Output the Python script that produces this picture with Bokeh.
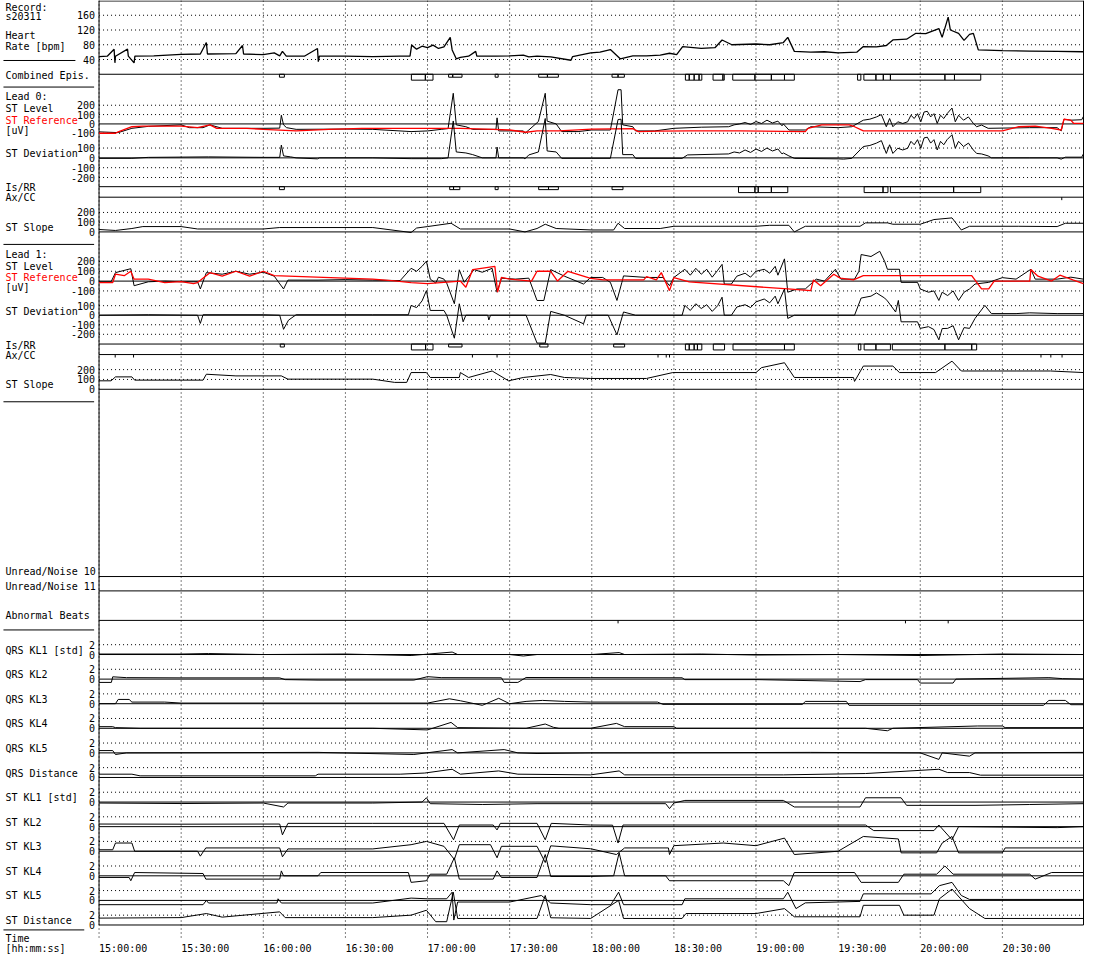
from bokeh.plotting import figure
from bokeh.models import Range1d
from bokeh.embed import file_html
from bokeh.resources import INLINE
from bokeh.core.properties import value

# ------------------------------------------------------------------ data
# time in minutes after 15:00:00
TIME_TICKS = [0, 30, 60, 90, 120, 150, 180, 210, 240, 270, 300, 330]
TIME_LABELS = ["15:00:00", "15:30:00", "16:00:00", "16:30:00", "17:00:00", "17:30:00",
               "18:00:00", "18:30:00", "19:00:00", "19:30:00", "20:00:00", "20:30:00"]

HR_TICKS = [40, 80, 120, 160]
LEVEL_TICKS = [-100, 0, 100, 200]
DEV_TICKS = [-200, -100, 0, 100]
SLOPE_TICKS = [0, 100, 200]
KL_TICKS = [0, 2]

HR = [(0,48),(3,49),(5.5,68),(5.8,31),(6,49),(10.4,68),(10.7,49),(12.8,31),(13.1,49),(20,50),
      (30,54),(37,55),(39.2,86),(39.6,55),(50,56),(52.4,78),(52.8,55),(60,53),(64,58),(66,50),
      (67,62),(68.4,49),(75,49),(79.8,70),(80.1,34),(80.5,49),(90,49),(100,48),(110,49),(113.6,49),
      (114.2,79),(116,68),(118,76),(120,72),(122,79),(124,70),(126,74),(128.3,100),(129,66),(130.5,42),
      (132,46),(135,49),(137.6,62),(138,49),(145,49),(150,50),(155,52),(157,47),(160,49),(165,47),
      (172.4,38),(173,48),(179.6,58),(183,60),(186.8,67),(190.4,42),(195,50),(200,50),(205,52),(208.4,57),
      (211,53),(213.2,75),(220,70),(225,72),(227.6,93),(231.2,80),(240,82),(245,80),(250,86),(251.6,100),
      (254,62),(260,60),(265,61),(270,58),(276.8,60),(279.2,75),(284,74),(287.6,78),(290,93),(295,95),
      (298.4,111),(302,110),(306.8,124),(308,100),(310.2,155),(311,120),(314,111),(316,92),(318,108),
      (319.4,111),(321.2,66),(330,64),(340,63),(350,62),(359.6,61)]

# episodes: (start, end, kind)  kind 1 = short mark, 2 = long mark
COMB_EPIS = [(65.9,67.7,1),(114.1,119.2,2),(119.2,122,2),(127.7,129.2,1),(129.2,132.6,1),(144.7,145.8,1),
             (160.6,163.8,1),(163.8,167.8,1),(187.4,189.6,1),(189.6,191.9,1),(214.2,215.6,2),(215.6,217.4,2),
             (217.4,219.2,2),(219.2,220.2,2),(224.3,227.9,2),(227.9,228.4,2),(231.5,239.6,2),(239.6,245.6,2),
             (245.6,250.4,2),(250.4,254,2),(277.1,278.3,2),(279.4,283.8,2),(283.8,286.5,2),(286.5,289.1,2),
             (289.1,309,2),(309,312.5,2),(312.5,322.1,2)]

L0_LEVEL = [(0,-85),(7,-93),(12,-47),(18,-26),(30,-10),(33,-40),(38,-40),(40.5,-10),(45,-47),(60,-47),
            (66,-45),(66.6,93),(67.4,-10),(68.5,-40),(72,-58),(90,-55),(100,-58),(114,-82),(120,-75),(125,-58),
            (127.5,-50),(129.4,328),(130.5,-10),(134,-30),(136.5,-58),(145,-58),(145.4,65),(146,-75),(155,-75),
            (155.6,-100),(157,-65),(160.5,26),(163,328),(163.7,30),(167,0),(169,-82),(175,-82),(180,-65),
            (186.8,-65),(189.6,366),(190.7,366),(191.3,-10),(195,-30),(196,-75),(203,-75),(210,-47),(220,-35),
            (230,-30),(232,-10),(234,0),(236,15),(238,-5),(240,25),(242,5),(244,40),(246,10),(248,30),
            (249.5,-20),(250,0),(252,-65),(258,-65),(260,-30),(270,-40),(275,-30),
            (279.2,40),(281.6,51),(284,75),(285.8,100),(287.6,-30),(288.8,58),(290,-30),(291.8,23),(293.6,5),
            (295.4,23),(296.6,93),(297.8,58),(299,110),(300.2,23),(301.4,128),(302.6,135),(303.8,75),(305,110),
            (306.2,5),(307.4,93),(308.6,58),(309.8,110),(311.6,170),(312.8,23),(314,93),(315.8,40),(317.6,75),
            (319.4,5),(320.6,-30),(322.4,-12),(324.8,-47),(340,-40),(350,-40),(351.5,-75),(352.5,50),
            (355,40),(359,45),(359.6,80)]
L0_REF = [(0,-100),(6,-100),(7,-85),(12,-30),(16,-23),(30,-23),(36,-40),(40.5,-10),(43,-47),(54,-47),
          (60,-58),(72,-75),(84,-58),(96,-47),(120,-47),(132,-47),(144,-58),(150,-65),(156,-89),(160,-75),
          (168,-75),(180,-55),(195,-50),(197,-82),(204,-78),(216,-75),(234,-75),(258,-82),(259,-47),(264,-10),
          (274,-10),(276,-30),(279.2,-75),(330,-75),(336,-30),(342,-23),(348,-47),(351.5,-65),(352.5,50),
          (355,40),(356,7),(359.6,7)]
L0_DEV = [(0,-5),(12,-5),(18,5),(40,10),(60,5),(66,5),(66.6,130),(67.4,20),(70,10),(72,0),(79.8,-10),
          (80.5,0),(100,0),(114,-8),(125,-8),(127.5,0),(129.4,375),(130.5,60),(134,50),(136.5,33),(140,0),
          (145,0),(145.4,110),(146,0),(155,0),(155.6,-10),(157,30),(160.5,60),(163,400),(163.7,70),(167,60),
          (169,-5),(180,-5),(186.8,-5),(189.6,390),(190.7,393),(191.3,33),(195,33),(196,-5),(213,-5),(215,30),
          (230,40),(232,60),(234,50),(236,80),(238,55),(240,90),(242,65),(244,100),(246,70),(248,90),
          (249.5,40),(250,50),(252,20),(254,-5),(270,-10),(272,-13),(275,-5),
          (279.2,115),(281.6,126),(284,150),(285.8,175),(287.6,45),(288.8,133),(290,45),(291.8,98),(293.6,80),
          (295.4,98),(296.6,168),(297.8,133),(299,185),(300.2,98),(301.4,203),(302.6,210),(303.8,150),(305,185),
          (306.2,80),(307.4,168),(308.6,133),(309.8,185),(311.6,235),(312.8,98),(314,168),(315.8,115),
          (317.6,150),(319.4,80),(320.6,45),(322.4,40),(324.8,20),(326,0),(340,0),(350,0),(351.5,-13),
          (353,7),(359,7),(359.6,40)]
L0_ISRR = [(65.9,67.7,1),(128.1,129.5,1),(129.5,131.8,1),(144.7,145.8,1),(160.6,164.2,1),(164.2,167.8,1),
           (187.4,191.4,1),(233.6,239.6,2),(239.6,240.8,2),(240.8,245.6,2),(245.6,251.6,2),(279.5,286.4,2),
           (286.4,288.2,2),(289.1,312.2,2),(312.2,322.1,2)]
L0_AXCC = [351.7]
L0_SLOPE = [(0,25),(6,15),(12,35),(16,55),(30,55),(36,30),(60,30),(66,45),(80,45),(100,45),(114,-6),
            (116,40),(120,55),(128.6,89),(132,30),(150,30),(155.6,0),(160,35),(163,79),(167,35),(180,20),
            (188,20),(189.6,89),(192,35),(205,35),(210,58),(240,58),(245,68),(252,68),(254,0),(258,58),
            (278,58),(280,93),(288,93),(290,79),(300,79),(305,127),(311.6,144),(315,20),(318,58),(336,58),
            (350,55),(353,89),(359.6,89)]

L1_LEVEL = [(0,-7),(4.4,-7),(6,86),(11.6,126),(12.8,-47),(18,-7),(24,0),(30,-7),(36,-7),(37,-80),
            (39.2,86),(45,70),(50,100),(55,70),(60,90),(64,50),(67.4,-80),(69,10),(80,10),(90,15),(100,10),
            (110,5),(114,130),(116,100),(118,150),(119.6,203),(121,20),(123,-20),(124,40),(126,20),(127,-20),
            (129.8,-230),(131.6,115),(133.4,-13),(137,117),(140,90),(143.6,130),(145.4,-113),(147,30),(152,20),
            (157,30),(160,-197),(162.5,-197),(165,117),(170,50),(177,-30),(179.6,37),(184,37),(186.8,-13),
            (189.2,-197),(191,-13),(191.6,53),(200,37),(206,37),(208.4,-47),(210,37),(214,120),(216,60),
            (218,130),(220,70),(222,120),(224,40),(226,110),(227.6,170),(228.4,-30),(231,-30),(233,50),(236,80),
            (238,40),(240,100),(243,120),(245,80),(247,150),(248,60),(250.4,226),(251.6,-113),(255,-80),
            (258,-80),(262,20),(265,0),(269,120),(271,20),(276,20),(277.6,100),(278.4,270),(282,250),
            (285.2,303),(287,200),(288,120),(292.4,120),(293,-13),(299,-13),(300,-80),(303,-113),(305,-100),
            (306.8,-197),(308,-113),(310,-147),(312,-100),(314,-197),(316,-113),(318,-80),(320,-30),(325,-13),
            (330,35),(335,20),(340.4,120),(342,20),(350,20),(355,40),(359.6,20)]
L1_REF = [(0,-15),(5,-15),(6,70),(9.2,55),(11.6,100),(12.8,20),(18,20),(24,-15),(30,-5),(34.5,-25),
          (36,-15),(40.5,86),(45,50),(50,100),(55,50),(60,100),(64,55),(100,20),(108,3),(114,-15),(120,-25),
          (132,0),(134,-63),(136.5,117),(144.6,150),(145.6,-113),(147,37),(150,20),(158,0),(160,100),
          (165,100),(167.5,0),(171.3,100),(179.6,28),(184.4,12),(199,12),(200,45),(203.6,12),(205.4,86),
          (208.4,-97),(210,35),(215.6,-7),(251.6,-80),(260,-97),(261,12),(263.6,-47),(268.4,70),(270.8,30),
          (275.6,12),(279.2,55),(318.8,55),(322.4,-80),(325,-80),(327,0),(340,0),(340.4,117),(343,50),
          (348,0),(351,60),(356,10),(359.6,-25)]
L1_DEV = [(0,0),(18,5),(36,0),(37,-86),(38,5),(60,5),(66,0),(67.4,-148),(69.2,-52),(72,5),(100,5),(113,5),
          (114,103),(116,80),(118,150),(119.6,258),(121,50),(126,50),(127,0),(129.8,-241),(131.6,120),
          (133,-69),(134,0),(142,0),(142.4,-50),(143,0),(156,0),(160,-292),(163,-292),(165,40),(170,0),
          (177,-90),(178,0),(179.6,0),(186,0),(189.2,-206),(191.6,34),(196,0),(213,0),(214,103),(216,50),
          (218,120),(220,70),(222,110),(224,40),(226,100),(227.6,189),(228.4,0),(231,0),(233,86),(236,110),
          (238,80),(240,140),(243,170),(245,130),(247,200),(248,120),(250.4,275),(251.6,-34),(254,0),(276,0),
          (278.4,180),(282,200),(284,234),(287,180),(288,150),(291,34),(292,155),(293,-69),(299,-69),
          (300,-138),(303,-120),(305,-150),(306.8,-258),(308,-140),(310,-138),(312,-110),(314,-258),
          (316,-130),(318,-138),(320,-34),(323.6,103),(326,17),(335,17),(340,25),(350,17),(359.6,17)]
L1_ISRR = [(66.2,67.7,1),(114.1,119.3,2),(119.3,122,2),(127.7,132.6,1),(161.0,164.0,1),(188.0,192.0,1),
           (214.2,215.6,2),(215.6,217.4,2),(217.4,218.6,2),(218.6,220.2,2),(224.4,228.5,2),(231.6,250.4,2),
           (250.4,254,2),(277.4,278.3,2),(279.5,283.8,2),(283.8,289.1,2),(289.8,309,2),(309,318.8,2),
           (318.8,320.6,2)]
L1_AXCC = [5.9, 12.6, 136.4, 145.4, 204.2, 207.2, 208.4, 344.1, 347.7, 351.8]
L1_SLOPE = [(0,86),(4.4,86),(6,126),(12,126),(13,93),(38,93),(39.2,153),(50,136),(66.6,136),(69,103),
            (100,103),(108,70),(112.4,70),(114,170),(119.6,170),(121,120),(131.6,120),(132,170),(135,120),
            (143.6,186),(149.6,86),(155,120),(165,150),(170,120),(179.6,110),(200,110),(209.6,170),(240,170),
            (242,220),(250.4,270),(254,120),(275.6,120),(276,80),(279.2,236),(290,236),(292.4,170),(305.6,170),
            (311.6,286),(315,186),(335,186),(347.6,186),(359.6,170)]

ABNORMAL_BEATS = [189.6, 294.6, 310.2]

KL_NAMES = ["QRS KL1 [std]", "QRS KL2", "QRS KL3", "QRS KL4", "QRS KL5", "QRS Distance",
            "ST KL1 [std]", "ST KL2", "ST KL3", "ST KL4", "ST KL5", "ST Distance"]
QRS_KL1 = [(0,0.1),(30,0.1),(40,0.2),(60,0.0),(90,0.1),(114,-0.2),(129,0.5),(131,0.0),(150,0.0),(155,-0.3),
           (160,0.0),(180,0.0),(190,0.4),(192,0.0),(220,0.1),(240,-0.1),(270,0.0),(300,-0.2),(330,0.1),(359.6,0.0)]
QRS_KL2 = [(0,-0.67),(4.5,-0.67),(5,0.47),(10,0.3),(30,0.25),(66,0.25),(68,-0.1),(80,-0.2),(115,-0.2),
           (120,0.5),(125,0.3),(147,0.27),(148,-0.67),(153,-0.67),(156,0.33),(179.6,0.3),(213,0.27),(214,-0.1),
           (240,-0.1),(278,-0.5),(280,-0.1),(299,-0.1),(300,-0.8),(312,-0.8),(313,0.0),(347,0.3),(352,0.1),(359.6,0.0)]
QRS_KL3 = [(0,0.0),(6,0.0),(7,0.87),(11,0.87),(12,0.33),(24,0.33),(30,0.13),(60,0.13),(90,0.13),(120,0.13),
           (128,1.0),(132,0.6),(140,-0.33),(146,1.1),(150,0.0),(156,0.47),(162,0.67),(170,0.47),(179.6,0.33),
           (204,0.33),(206,-0.13),(257,-0.13),(258,0.47),(273,0.47),(274,-0.33),(300,-0.33),(345,-0.33),
           (347,0.67),(353,0.67),(355,-0.2),(359.6,-0.2)]
QRS_KL4 = [(0,0.33),(5,0.33),(6,0.13),(15,0.0),(60,0.0),(100,0.0),(120,-0.33),(128.6,1.2),(131,0.13),
           (156,0.0),(163,0.87),(166,0.2),(168,0.0),(179.6,0.0),(189,1.0),(192,0.33),(210,0.33),(211,0.0),
           (280,0.0),(288,-0.5),(290,0.0),(321,0.47),(330,0.47),(331,0.13),(359.6,0.13)]
QRS_KL5 = [(0,0.47),(5,0.47),(6,-0.33),(10,0.0),(80,0.1),(115,-0.33),(129,0.67),(131,0.0),(148,0.67),
           (153,0.0),(160,-0.13),(179.6,0.0),(260,0.1),(300,0.0),(306.8,-1.33),(308,0.0),(318,-0.67),(320,0.0),
           (359.6,0.1)]
QRS_DIST = [(0,0.67),(12,0.67),(15,0.33),(60,0.33),(79,0.33),(80,0.67),(110,0.67),(119,0.9),(129,1.67),
            (132,0.67),(146,1.33),(153,0.67),(179.6,0.53),(190,1.33),(192,0.53),(250,0.53),(280,0.8),
            (306.8,1.67),(310,1.0),(318,1.0),(322,0.47),(359.6,0.47)]
ST_KL1 = [(0,-0.2),(30,-0.3),(60,-0.2),(67.4,-1.0),(69,-0.2),(100,-0.2),(118,0.0),(119.6,0.87),(121,-0.33),
          (140,-0.5),(160,-0.33),(179.6,-0.33),(207,-0.33),(208.4,-1.33),(210,-0.2),(214,0.33),(250,0.33),
          (254,-1.0),(278,-1.0),(280,0.87),(293,0.87),(295,-0.67),(320,-0.67),(340,-0.5),(359.6,-0.33)]
ST_KL2 = [(0,0.53),(30,0.5),(66,0.53),(67,-1.67),(69,0.67),(100,0.67),(126,0.67),(129.5,-2.67),(131.6,0.33),
          (144,0.33),(145.4,-0.67),(146.6,0.67),(160,0.67),(163,-2.67),(165.2,0.67),(179.6,0.33),(187.6,0.3),
          (189.6,-3.33),(191.4,0.33),(280,0.33),(283,-0.8),(305,-0.8),(306.8,0.33),(311.6,-2.67),(314,0.0),
          (350,-0.2),(359.6,0.0)]
ST_KL3 = [(0,0.3),(5,0.3),(6,1.67),(12,1.67),(13,0.0),(36,0.0),(37,-1.0),(39,0.67),(66,0.67),(67,-1.13),
          (69,0.47),(100,0.47),(114,1.33),(119.6,2.0),(126,1.0),(129.8,-1.67),(131.6,1.33),(143,1.33),
          (145.4,-1.33),(147,1.0),(160,1.0),(163,-2.3),(165,1.1),(179.6,0.5),(189,-0.67),(192,0.67),(208,0.67),
          (208.4,-0.67),(210,1.13),(228,1.67),(240,1.13),(250.4,2.67),(254,-0.67),(270,0.0),(279.2,3.0),
          (292,2.5),(293,-0.33),(306,-0.33),(308,1.67),(311.6,3.0),(314,-0.33),(330,-0.33),(331,0.67),(359.6,0.67)]
ST_KL4 = [(0,-0.33),(11,-0.33),(11.6,-1.0),(13,0.67),(38,0.47),(39,-0.67),(66,-0.67),(66.6,1.0),(67.4,0.0),
          (80,0.0),(81,0.67),(113,0.67),(114,-1.33),(119.6,-1.0),(121,0.33),(127,0.33),(129.8,3.67),(131.6,-0.67),
          (144,-0.67),(145.4,1.0),(147,-0.33),(160,-0.33),(163,4.33),(165,-0.13),(179.6,-0.13),(188,0.0),
          (190,4.67),(192,0.0),(207,0.0),(208.4,-1.0),(250,-1.0),(252,-2.0),(254,0.67),(276,0.67),(278.4,-1.33),
          (292,-1.33),(294,0.33),(306,0.33),(309,2.0),(312,0.33),(340,0.33),(342,-0.67),(348,0.67),(359.6,0.67)]
ST_KL5 = [(0,-0.87),(38,-0.87),(39.2,0.0),(40,-0.53),(65,-0.53),(65.4,0.33),(66.6,-0.53),(100,-0.53),
          (114,0.47),(120,0.33),(127,0.33),(129,1.67),(129.6,-4.0),(131,-0.33),(150,-0.33),(161.6,1.0),
          (165,-0.53),(179.6,-0.87),(187,-0.87),(189.8,1.67),(191.6,-0.87),(213,-0.87),(214,0.33),(250,0.33),
          (251.6,1.67),(254.6,-1.67),(258,-0.5),(278,-0.2),(279.2,1.33),(304,1.33),(307,3.0),(311.6,3.67),
          (315,1.0),(318,0.2),(359.6,0.2)]
ST_DIST = [(0,1.4),(30,1.5),(39.2,2.33),(45,1.6),(66,2.67),(68,1.5),(100,1.5),(114,2.0),(119.6,3.0),
           (123,0.67),(127,0.67),(129.4,6.67),(131,1.33),(160,1.33),(163,6.0),(165,1.47),(179.6,1.33),
           (189.8,5.0),(191.6,1.33),(213,1.33),(214.4,2.33),(240,2.33),(250.4,3.33),(254,1.67),(278,1.67),
           (279.2,4.0),(292.4,4.0),(294,2.0),(305,2.0),(307,5.33),(311.6,7.3),(318,3.33),(323.6,1.33),(359.6,1.33)]
KL_SERIES = [QRS_KL1, QRS_KL2, QRS_KL3, QRS_KL4, QRS_KL5, QRS_DIST,
             ST_KL1, ST_KL2, ST_KL3, ST_KL4, ST_KL5, ST_DIST]

# ------------------------------------------------------------------ layout
REF_W, REF_H = 1100, 970        # design grid (reference pixels)
W, H = 1084, 954                # figure size on page
X0, X1 = 100, 1099              # design x of 15:00 and right frame edge
PPM = 1000.0 / 360.0            # design pixels per minute
FONT = value("DejaVu Sans Mono")
FS = "10px"
RED = "#ff0000"


def tx(px):
    return (px - X0) / PPM


T0, T_END = 0.0, tx(X1)
LAB_X = tx(5)
TICK_X = tx(96)

# panel name -> (value a, design y a, value b, design y b)
PANELS = {
    "hr": (160, 15, 40, 60),
    "l0lev": (200, 106.5, 0, 125.5),
    "l0dev": (100, 150, 0, 160),
    "l0slope": (200, 215.5, 0, 235.3),
    "l1lev": (200, 265.3, 0, 285.3),
    "l1dev": (100, 310.3, 0, 320),
    "l1slope": (200, 375.3, 0, 395.3),
}
KL_ZERO = [665, 690, 715, 740, 765, 790, 815, 840, 865, 890, 915, 940]
for i, z in enumerate(KL_ZERO):
    PANELS["kl%d" % i] = (2, z - 10, 0, z)

ranges = {}
for name, (va, pa, vb, pb) in PANELS.items():
    b = (pb - pa) / (vb - va)
    a = pa - b * va
    ranges[name] = Range1d(start=(REF_H - a) / b, end=(0 - a) / b)

p = figure(width=W, height=H, x_range=Range1d(tx(0), tx(REF_W)), y_range=Range1d(REF_H, 0),
           x_axis_location=None, y_axis_location=None, toolbar_location=None,
           output_backend="svg", min_border=0, outline_line_color=None)
p.extra_y_ranges = ranges
p.xgrid.visible = False
p.ygrid.visible = False
p.background_fill_color = "white"
p.border_fill_color = "white"


def xs(pairs):
    return [q[0] for q in pairs]


def ys(pairs):
    return [q[1] for q in pairs]


# vertical dotted time grid
p.segment(x0=TIME_TICKS, x1=TIME_TICKS, y0=[0] * len(TIME_TICKS), y1=[955] * len(TIME_TICKS),
          line_color="black", line_width=1, line_dash="1 3")


def panel_grid(name, ticks, labels=True, solid_zero=True):
    dotted = [t for t in ticks if not (solid_zero and t == 0)]
    n = len(dotted)
    p.segment(x0=[T0] * n, x1=[T_END] * n, y0=dotted, y1=dotted, y_range_name=name,
              line_color="black", line_width=1, line_dash="1 3")
    if solid_zero:
        p.segment(x0=[T0], x1=[T_END], y0=[0], y1=[0], y_range_name=name,
                  line_color="black", line_width=1)
    if labels:
        p.text(x=[TICK_X] * len(ticks), y=ticks, text=[str(t) for t in ticks], y_range_name=name,
               text_font=FONT, text_font_size=FS, text_align="right", text_baseline="middle",
               text_color="black")


panel_grid("hr", HR_TICKS, solid_zero=False)
panel_grid("l0lev", LEVEL_TICKS)
panel_grid("l0dev", DEV_TICKS)
panel_grid("l0slope", SLOPE_TICKS)
panel_grid("l1lev", LEVEL_TICKS)
panel_grid("l1dev", DEV_TICKS)
panel_grid("l1slope", SLOPE_TICKS)
for i in range(len(KL_ZERO)):
    panel_grid("kl%d" % i, KL_TICKS)

# solid separator lines of the plot area
SEP_Y = [0.5, 75, 189.3, 200, 349.3, 360, 585.7, 600.3, 630.3]
p.segment(x0=[T0] * len(SEP_Y), x1=[T_END] * len(SEP_Y), y0=SEP_Y, y1=SEP_Y,
          line_color="black", line_width=1)
p.segment(x0=[T0, T_END], x1=[T0, T_END], y0=[0, 0], y1=[940, 940], line_color="black", line_width=1)

# separators in the label column
LSEP = [(61, 3, 76), (88, 3, 95), (248, 3, 95), (408, 3, 95), (640, 3, 95), (945, 3, 85)]
p.segment(x0=[tx(s[1]) for s in LSEP], x1=[tx(s[2]) for s in LSEP],
          y0=[s[0] for s in LSEP], y1=[s[0] for s in LSEP], line_color="black", line_width=1)


def episodes(line_y, eps):
    depth = {1: 3, 2: 6}
    p.quad(left=[e[0] for e in eps], right=[e[1] for e in eps], top=[line_y] * len(eps),
           bottom=[line_y + depth[e[2]] for e in eps], fill_color=None, line_color="black", line_width=1)


def marks(line_y, ts, d=3):
    p.segment(x0=ts, x1=ts, y0=[line_y] * len(ts), y1=[line_y + d] * len(ts),
              line_color="black", line_width=1)


episodes(75, COMB_EPIS)
episodes(189.3, L0_ISRR)
episodes(349.3, L1_ISRR)
marks(200, L0_AXCC)
marks(360, L1_AXCC)
marks(630.3, ABNORMAL_BEATS)

# traces
p.line(xs(HR), ys(HR), y_range_name="hr", line_color="black", line_width=1.3)
p.line(xs(L0_LEVEL), ys(L0_LEVEL), y_range_name="l0lev", line_color="black", line_width=1)
p.line(xs(L0_REF), ys(L0_REF), y_range_name="l0lev", line_color=RED, line_width=1.3)
p.line(xs(L0_DEV), ys(L0_DEV), y_range_name="l0dev", line_color="black", line_width=1)
p.line(xs(L0_SLOPE), ys(L0_SLOPE), y_range_name="l0slope", line_color="black", line_width=1)
p.line(xs(L1_LEVEL), ys(L1_LEVEL), y_range_name="l1lev", line_color="black", line_width=1)
p.line(xs(L1_REF), ys(L1_REF), y_range_name="l1lev", line_color=RED, line_width=1.3)
p.line(xs(L1_DEV), ys(L1_DEV), y_range_name="l1dev", line_color="black", line_width=1)
p.line(xs(L1_SLOPE), ys(L1_SLOPE), y_range_name="l1slope", line_color="black", line_width=1)
for i, s in enumerate(KL_SERIES):
    p.line(xs(s), ys(s), y_range_name="kl%d" % i, line_color="black", line_width=1)

# label column
LABELS = [("Record:", 6.7, "black"), ("s20311", 16.7, "black"), ("Heart", 36, "black"),
          ("Rate [bpm]", 46.7, "black"), ("Combined Epis.", 76, "black"),
          ("Lead 0:", 97.7, "black"), ("ST Level", 110.3, "black"), ("ST Reference", 122, RED),
          ("[uV]", 132.3, "black"), ("ST Deviation", 155.7, "black"), ("Is/RR", 190, "black"),
          ("Ax/CC", 200.5, "black"), ("ST Slope", 231, "black"),
          ("Lead 1:", 258.3, "black"), ("ST Level", 270.5, "black"), ("ST Reference", 282, RED),
          ("[uV]", 292.3, "black"), ("ST Deviation", 316, "black"), ("Is/RR", 350.5, "black"),
          ("Ax/CC", 360.5, "black"), ("ST Slope", 390.7, "black"),
          ("Unread/Noise 10", 580.7, "black"), ("Unread/Noise 11", 595.7, "black"),
          ("Abnormal Beats", 625.7, "black"),
          ("Time", 953.3, "black"), ("[hh:mm:ss]", 964, "black")]
for name, z in zip(KL_NAMES, KL_ZERO):
    LABELS.append((name, z - 4.5, "black"))
p.text(x=[LAB_X] * len(LABELS), y=[l[1] for l in LABELS], text=[l[0] for l in LABELS],
       text_color=[l[2] for l in LABELS], text_font=FONT, text_font_size=FS,
       text_align="left", text_baseline="middle")

# time tick labels
p.text(x=TIME_TICKS, y=[964] * len(TIME_TICKS), text=TIME_LABELS, text_font=FONT, text_font_size=FS,
       text_align="left", text_baseline="middle", text_color="black")

open("out.html", "w").write(file_html(p, INLINE))
